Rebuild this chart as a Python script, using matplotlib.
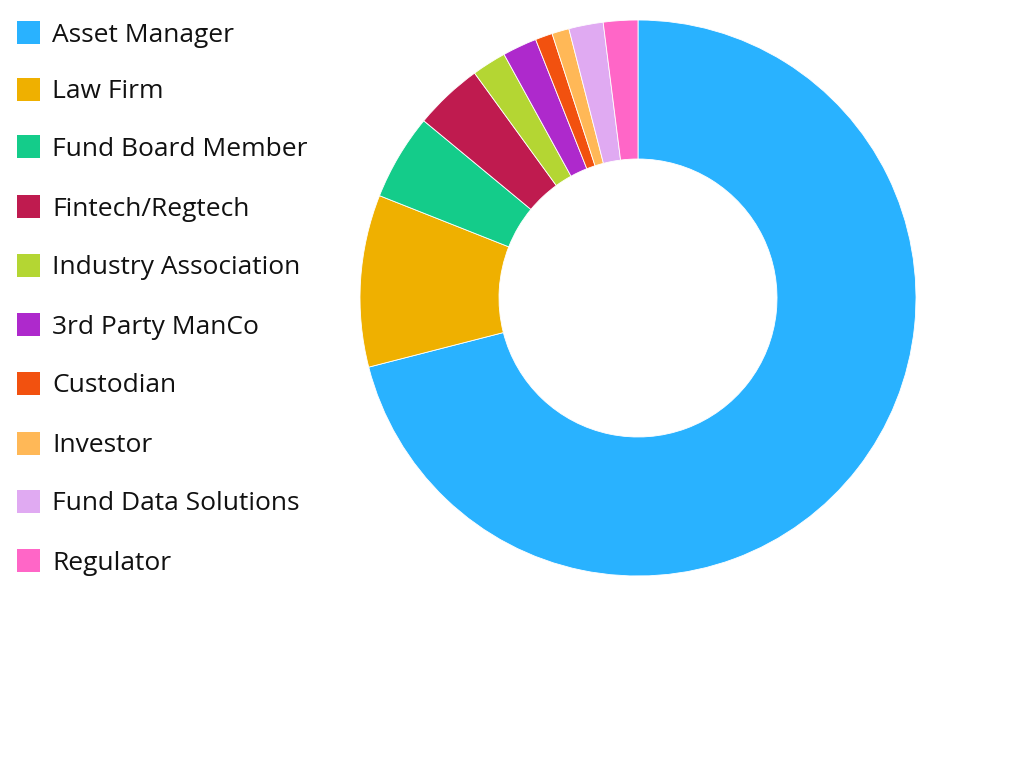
import matplotlib
matplotlib.use("Agg")
import matplotlib.pyplot as plt
from matplotlib.patches import Rectangle

categories = ["Asset Manager", "Law Firm", "Fund Board Member", "Fintech/Regtech",
              "Industry Association", "3rd Party ManCo", "Custodian", "Investor",
              "Fund Data Solutions", "Regulator"]
values = [71, 10, 5, 4, 2, 2, 1, 1, 2, 2]
colors = ["#29B2FF", "#EFB000", "#14CC8A", "#BF1B4F", "#B4D633",
          "#AE29CC", "#F2510F", "#FFB857", "#E0AAF2", "#FF66C7"]

W, H = 1024, 768
fig = plt.figure(figsize=(W / 100, H / 100), dpi=100)
cx, cy, r = 638, 298, 278
ax = fig.add_axes([(cx - r) / W, (H - cy - r) / H, 2 * r / W, 2 * r / H])
ax.pie(values, colors=colors, startangle=90, counterclock=False, radius=1,
       wedgeprops=dict(width=0.5, edgecolor="white", linewidth=0.6))
ax.set_xlim(-1, 1)
ax.set_ylim(-1, 1)
ax.axis("off")

row_y = [32, 89, 146, 206, 265, 324, 383, 443, 501, 560]
for lab, col, y in zip(categories, colors, row_y):
    fig.patches.append(Rectangle((17 / W, (H - y - 11.5) / H), 23 / W, 23 / H,
                                 transform=fig.transFigure, facecolor=col,
                                 edgecolor="none"))
    fig.text(52 / W, (H - y - 9.5) / H, lab, fontsize=19, family="Open Sans",
             va="baseline", ha="left", color="#111111")

fig.savefig("out.png", dpi=100)
